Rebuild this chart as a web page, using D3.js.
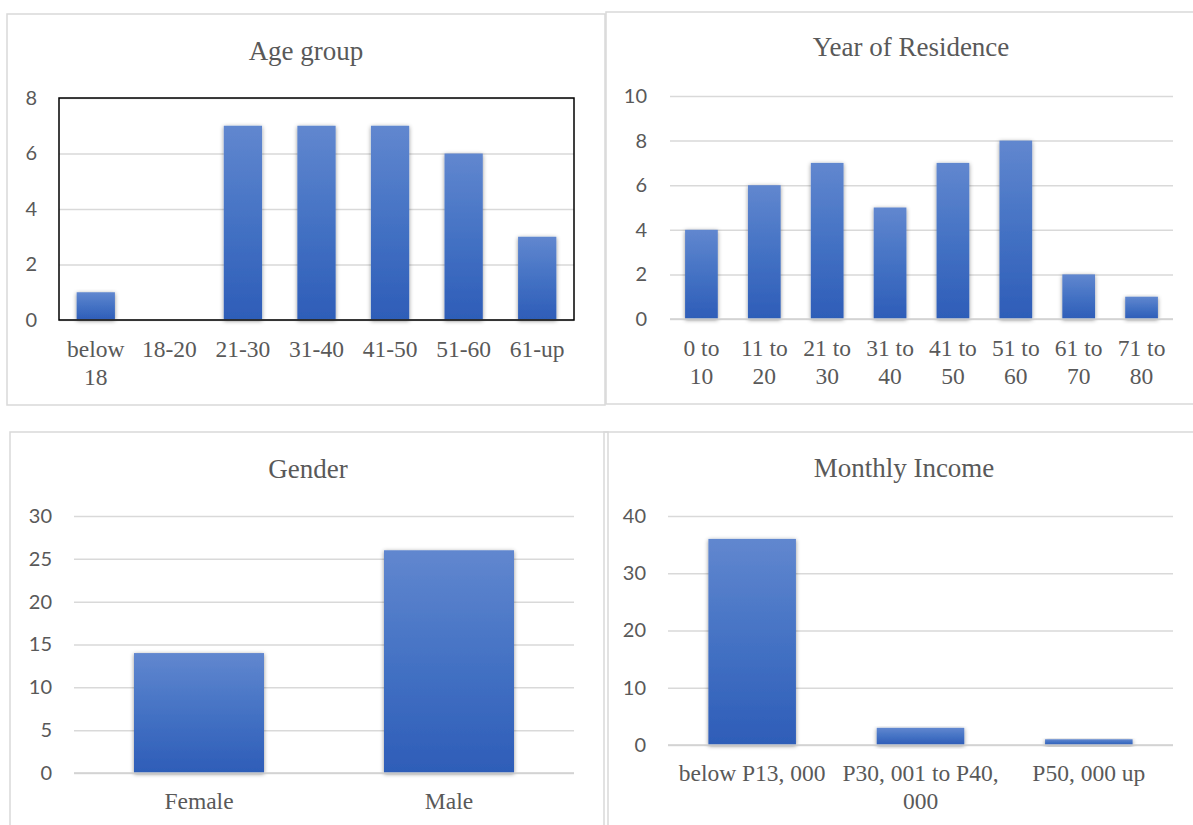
<!DOCTYPE html>
<html>
<head>
<meta charset="utf-8">
<script src="https://cdnjs.cloudflare.com/ajax/libs/d3/7.8.5/d3.min.js"></script>
<style>
  body { margin: 0; background: #fff; }
  svg { display: block; }
  .tick text { font-family: Lato, "Open Sans", sans-serif; font-size: 20px; fill: #595959; }
  .xlab { font-family: "Liberation Serif", "Times New Roman", serif; font-size: 23.5px; fill: #595959; }
  .title { font-family: "Liberation Serif", "Times New Roman", serif; font-size: 27px; fill: #595959; }
</style>
</head>
<body>
<div id="chart"></div>
<script>
// (DATA) one set of arrays per chart
var ageCategories = ["below 18", "18-20", "21-30", "31-40", "41-50", "51-60", "61-up"];
var ageValues = [1, 0, 7, 7, 7, 6, 3];
var ageTicks = [0, 2, 4, 6, 8];

var residenceCategories = ["0 to 10", "11 to 20", "21 to 30", "31 to 40", "41 to 50", "51 to 60", "61 to 70", "71 to 80"];
var residenceValues = [4, 6, 7, 5, 7, 8, 2, 1];
var residenceTicks = [0, 2, 4, 6, 8, 10];

var genderCategories = ["Female", "Male"];
var genderValues = [14, 26];
var genderTicks = [0, 5, 10, 15, 20, 25, 30];

var incomeCategories = ["below P13, 000", "P30, 001 to P40, 000", "P50, 000 up"];
var incomeValues = [36, 3, 1];
var incomeTicks = [0, 10, 20, 30, 40];

var w = 1193, h = 825;

var svg = d3.select("#chart").append("svg")
    .attr("width", w)
    .attr("height", h);

// (DEFS) bar gradient + soft shadow like the office charts
var defs = svg.append("defs");
var grad = defs.append("linearGradient")
    .attr("id", "barGrad")
    .attr("x1", 0).attr("y1", 0).attr("x2", 0).attr("y2", 1);
grad.append("stop").attr("offset", "0%").attr("stop-color", "#6187cf");
grad.append("stop").attr("offset", "50%").attr("stop-color", "#4472c4");
grad.append("stop").attr("offset", "100%").attr("stop-color", "#2e5db8");

var shadow = defs.append("filter")
    .attr("id", "barShadow")
    .attr("x", "-30%").attr("y", "-10%").attr("width", "160%").attr("height", "130%");
shadow.append("feDropShadow")
    .attr("dx", 0).attr("dy", 1)
    .attr("stdDeviation", 2.2)
    .attr("flood-color", "#000")
    .attr("flood-opacity", 0.42);

// wrap x labels to the band width
function wrap(textSel, width) {
    textSel.each(function() {
        var text = d3.select(this);
        var words = text.text().split(" ");
        var lines = [];
        var line = [];
        text.text("");
        var probe = text.append("tspan");
        words.forEach(function(word) {
            line.push(word);
            probe.text(line.join(" "));
            if (probe.node().getComputedTextLength() > width && line.length > 1) {
                line.pop();
                lines.push(line.join(" "));
                line = [word];
            }
        });
        lines.push(line.join(" "));
        probe.remove();
        lines.forEach(function(l, i) {
            text.append("tspan")
                .attr("x", text.attr("x"))
                .attr("dy", i === 0 ? 0 : 28)
                .text(l);
        });
    });
}

// function to draw one bar chart panel
function drawChart(cfg) {
    var g = svg.append("g");

    // (PANEL BORDER)
    g.append("rect")
        .attr("x", cfg.box[0]).attr("y", cfg.box[1])
        .attr("width", cfg.box[2]).attr("height", cfg.box[3])
        .attr("fill", "none")
        .attr("stroke", "#d9d9d9")
        .attr("stroke-width", 1.5);

    // (TITLE)
    g.append("text")
        .attr("class", "title")
        .attr("x", cfg.box[0] + cfg.box[2] / 2 + cfg.titleDx)
        .attr("y", cfg.titleY)
        .attr("text-anchor", "middle")
        .text(cfg.title);

    var left = cfg.plot[0], top = cfg.plot[1], right = cfg.plot[2], bottom = cfg.plot[3];

    // (SCALES)
    var xScale = d3.scaleBand()
        .domain(cfg.categories)
        .range([left, right])
        .paddingInner(0.48)
        .paddingOuter(0.24);

    var yScale = d3.scaleLinear()
        .domain([0, d3.max(cfg.ticks)])
        .range([bottom, top]);

    // (Y-AXIS + GRIDLINES)
    var yAxis = d3.axisLeft(yScale)
        .tickValues(cfg.ticks)
        .tickSize(-(right - left))
        .tickPadding(cfg.tickPad);
    var ya = g.append("g")
        .attr("transform", "translate(" + left + ",0)")
        .call(yAxis);
    ya.select(".domain").remove();
    ya.selectAll(".tick line")
        .attr("stroke", "#d9d9d9")
        .attr("stroke-width", 1.5);

    // (BARS)
    g.selectAll("rect.bar")
        .data(cfg.values)
        .enter()
        .append("rect")
        .attr("class", "bar")
        .attr("x", function(d, i) { return xScale(cfg.categories[i]); })
        .attr("y", function(d) { return yScale(d); })
        .attr("width", xScale.bandwidth())
        .attr("height", function(d) { return bottom - yScale(d); })
        .attr("fill", "url(#barGrad)")
        .attr("filter", function(d) { return d > 0 ? "url(#barShadow)" : null; })
        .style("display", function(d) { return d > 0 ? null : "none"; });

    // (X-AXIS LINE)
    g.append("line")
        .attr("x1", left).attr("x2", right)
        .attr("y1", bottom).attr("y2", bottom)
        .attr("stroke", "#d0d0d0")
        .attr("stroke-width", 1.5);

    // black plot-area frame (age chart only)
    if (cfg.frame) {
        g.append("rect")
            .attr("x", left).attr("y", top)
            .attr("width", right - left).attr("height", bottom - top)
            .attr("fill", "none")
            .attr("stroke", "#000")
            .attr("stroke-width", 1.5);
    }

    // (X LABELS)
    g.selectAll("text.xlab")
        .data(cfg.categories)
        .enter()
        .append("text")
        .attr("class", "xlab")
        .attr("x", function(d) { return xScale(d) + xScale.bandwidth() / 2; })
        .attr("y", bottom + cfg.labelDy)
        .attr("text-anchor", "middle")
        .text(function(d) { return d; })
        .call(wrap, xScale.step() - 6);
}

drawChart({
    title: "Age group", box: [7, 14, 598, 391], titleY: 60, titleDx: 0,
    plot: [59, 98, 574, 320], categories: ageCategories, values: ageValues,
    ticks: ageTicks, tickPad: 22, labelDy: 37, frame: true
});

drawChart({
    title: "Year of Residence", box: [606, 12, 600, 392], titleY: 56, titleDx: 5,
    plot: [670, 96, 1173, 319], categories: residenceCategories, values: residenceValues,
    ticks: residenceTicks, tickPad: 23, labelDy: 37, frame: false
});

drawChart({
    title: "Gender", box: [10, 432, 598, 400], titleY: 478, titleDx: -1,
    plot: [74, 516, 574, 773], categories: genderCategories, values: genderValues,
    ticks: genderTicks, tickPad: 22, labelDy: 36, frame: false
});

drawChart({
    title: "Monthly Income", box: [604, 432, 600, 400], titleY: 477, titleDx: 0,
    plot: [668, 516, 1173, 745], categories: incomeCategories, values: incomeValues,
    ticks: incomeTicks, tickPad: 22, labelDy: 36, frame: false
});
</script>
</body>
</html>
